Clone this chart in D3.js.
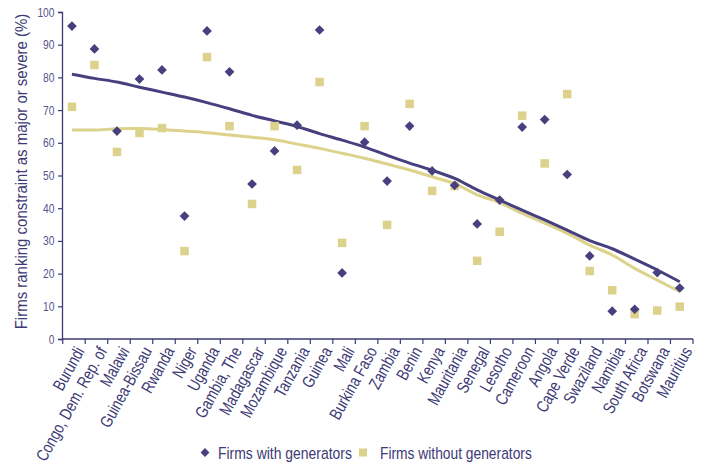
<!DOCTYPE html>
<html>
<head>
<meta charset="utf-8">
<script src="https://cdn.jsdelivr.net/npm/d3@7"></script>
<style>
  body { margin: 0; background: #fff; }
  svg { display: block; }
  text { font-family: "Liberation Sans", Arial, sans-serif; fill: #3d3a76; }
</style>
</head>
<body>
<svg id="chart" width="702" height="462"></svg>
<script>
const countries = ["Burundi","Congo, Dem. Rep. of","Malawi","Guinea-Bissau","Rwanda","Niger","Uganda","Gambia, The","Madagascar","Mozambique","Tanzania","Guinea","Mali","Burkina Faso","Zambia","Benin","Kenya","Mauritania","Senegal","Lesotho","Cameroon","Angola","Cape Verde","Swaziland","Namibia","South Africa","Botswana","Mauritius"];
const withGen = [95.7,88.7,63.6,79.5,82.3,37.6,94.2,81.7,47.4,57.5,65.4,94.5,20.2,60.2,48.3,65.1,51.4,47.0,35.2,42.5,64.8,67.1,50.3,25.4,8.5,9.1,20.3,15.6];
const withoutGen = [71.0,83.8,57.2,63.0,64.5,26.9,86.2,65.1,41.3,65.1,51.7,78.6,29.4,65.1,34.9,71.9,45.3,46.8,23.9,32.8,68.3,53.7,74.9,20.8,14.9,7.6,8.7,9.9];
const trendWith = [81.0,79.7,78.6,77.0,75.5,74.0,72.3,70.4,68.4,66.7,65.0,62.8,60.8,58.7,56.2,53.8,51.6,49.1,45.6,42.5,39.4,36.4,33.3,30.1,27.6,24.4,21.1,17.5];
const trendWithout = [63.9,63.9,64.3,64.4,64.1,63.6,63.1,62.4,61.7,60.9,59.6,58.3,56.8,55.3,53.5,51.7,49.6,47.5,44.1,41.7,38.4,35.4,32.3,28.7,25.7,21.6,18.0,14.5];
const yTicks = [0,10,20,30,40,50,60,70,80,90,100];
const seriesNames = ["Firms with generators","Firms without generators"];
const yTitle = "Firms ranking constraint as major or severe (%)";

const navy = "#46407e";
const gold = "#dcd28b";
const axisCol = "#3d3a76";
const narrow = 0.8;

const svg = d3.select("#chart");
const m = {left: 62, right: 9, top: 12, bottom: 123};
const W = 702, H = 462;
const x = d3.scaleBand().domain(countries).range([m.left + 0.7, W - m.right]).paddingInner(0).paddingOuter(0);
const y = d3.scaleLinear().domain([0, 100]).range([H - m.bottom, m.top]);

// Y axis
const yAxis = svg.append("g").attr("transform", `translate(${m.left},0)`)
  .call(d3.axisLeft(y).tickValues(yTicks).tickSize(4).tickPadding(3));
yAxis.select(".domain").attr("stroke", axisCol).attr("stroke-width", 1.3);
yAxis.selectAll(".tick line").attr("stroke", axisCol).attr("stroke-width", 1.2);
yAxis.selectAll(".tick text")
  .attr("font-size", 12.5)
  .attr("font-family", "'Liberation Sans', Arial, sans-serif")
  .style("fill", "#57538b")
  .attr("x", -7.5 / 0.82)
  .attr("transform", `scale(0.82,1)`);

// X axis
const xAxisG = svg.append("g").attr("transform", `translate(0,${y(0)})`);
xAxisG.append("line").attr("x1", m.left).attr("x2", x.range()[1]).attr("y1", 0).attr("y2", 0)
  .attr("stroke", axisCol).attr("stroke-width", 1.3);
const bounds = countries.map(c => x(c)).concat([x.range()[1]]);
xAxisG.selectAll("line.tk").data(bounds).join("line").attr("class", "tk")
  .attr("x1", d => d).attr("x2", d => d).attr("y1", 0).attr("y2", 5)
  .attr("stroke", axisCol).attr("stroke-width", 1.2);
xAxisG.selectAll("text.lbl").data(countries).join("text").attr("class", "lbl")
  .attr("transform", d => `translate(${x(d) + x.bandwidth() / 2 + 11},12) rotate(-61) scale(${narrow},1)`)
  .attr("text-anchor", "end")
  .attr("font-size", 17)
  .text(d => d);

// Y title (compressed horizontally to the reference length)
const title = svg.append("text")
  .attr("text-anchor", "middle").attr("font-size", 17)
  .text(yTitle);
const tl = title.node().getComputedTextLength();
const ts = Math.min(1, 316 / tl);
title.attr("transform", `translate(27,${(y(0) + y(100)) / 2 - 4}) rotate(-90) scale(${ts},1)`);

const cx = (d, i) => x(countries[i]) + x.bandwidth() / 2 - 2;

// trend lines
const line = d3.line().x((d, i) => cx(d, i)).y(d => y(d)).curve(d3.curveMonotoneX);
svg.append("path").datum(trendWithout).attr("d", line).attr("fill", "none")
  .attr("stroke", gold).attr("stroke-width", 3);
svg.append("path").datum(trendWith).attr("d", line).attr("fill", "none")
  .attr("stroke", navy).attr("stroke-width", 3);

// points
const sq = 8.5;
svg.selectAll("rect.pt").data(withoutGen).join("rect").attr("class", "pt")
  .attr("x", (d, i) => cx(d, i) - sq / 2).attr("y", d => y(d) - sq / 2)
  .attr("width", sq).attr("height", sq).attr("fill", gold);
const diamond = d3.symbol().type(d3.symbolDiamond2).size(60);
svg.selectAll("path.pt").data(withGen).join("path").attr("class", "pt")
  .attr("transform", (d, i) => `translate(${cx(d, i)},${y(d)})`)
  .attr("d", diamond).attr("fill", navy);

// legend
const lg = svg.append("g");
lg.append("path").attr("transform", "translate(205,452.5)").attr("d", d3.symbol().type(d3.symbolDiamond2).size(50)).attr("fill", navy);
const l1 = lg.append("text").attr("font-size", 17).text(seriesNames[0]);
l1.attr("transform", `translate(218,459) scale(${134 / l1.node().getComputedTextLength()},1)`);
lg.append("rect").attr("x", 359).attr("y", 448.5).attr("width", 8).attr("height", 8).attr("fill", gold);
const l2 = lg.append("text").attr("font-size", 17).text(seriesNames[1]);
l2.attr("transform", `translate(380,459) scale(${152 / l2.node().getComputedTextLength()},1)`);
</script>
</body>
</html>
